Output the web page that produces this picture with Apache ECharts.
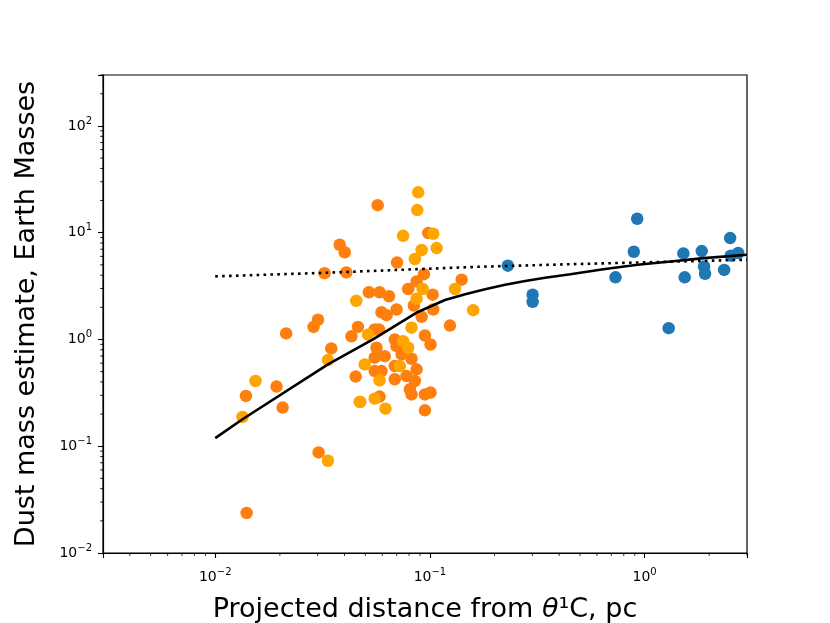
<!DOCTYPE html>
<html>
  <head>
    <meta charset="utf-8" />
    <title>Dust mass vs projected distance</title>
    <script src="https://cdn.jsdelivr.net/npm/echarts@6/dist/echarts.min.js"></script>
  </head>
  <body style="margin: 0">
    <div id="main" style="width: 830px; height: 623px"></div>
  </body>

  <script>
    // disks, dark orange group
    var orangeX = [0.0571, 0.0982, 0.038, 0.0401, 0.0703, 0.0323, 0.0408, 0.0938, 0.1406, 0.0867,
      0.0792, 0.103, 0.052, 0.0583, 0.0645, 0.0842, 0.0699, 0.0595, 0.0628, 0.1036,
      0.0915, 0.0301, 0.0287, 0.0214, 0.0462, 0.0431, 0.0553, 0.0579, 0.124, 0.0948,
      0.1007, 0.0564, 0.0686, 0.0699, 0.0347, 0.0616, 0.0553, 0.0738, 0.0821, 0.0686,
      0.0867, 0.0553, 0.0595, 0.0451, 0.0686, 0.0778, 0.0851, 0.0807, 0.0821, 0.0948,
      0.1007, 0.0583, 0.0473, 0.0948, 0.0193, 0.0139, 0.0206, 0.0303, 0.014];
    var orangeY = [18.1, 9.92, 7.71, 6.56, 5.26, 4.18, 4.25, 4.09, 3.63, 3.5,
      2.97, 2.63, 2.77, 2.77, 2.54, 2.08, 1.91, 1.8, 1.69, 1.91,
      1.63, 1.53, 1.31, 1.14, 1.31, 1.07, 1.24, 1.24, 1.35, 1.09,
      0.898, 0.837, 1.0, 0.866, 0.824, 0.698, 0.675, 0.724, 0.66, 0.563,
      0.525, 0.506, 0.506, 0.449, 0.424, 0.454, 0.408, 0.341, 0.306, 0.306,
      0.318, 0.292, 0.26, 0.217, 0.362, 0.296, 0.23, 0.0875, 0.0237];

    // disks, light orange group
    var yellowX = [0.0882, 0.0873, 0.075, 0.1036, 0.0915, 0.1075, 0.0851, 0.131, 0.0925, 0.0454,
      0.0867, 0.159, 0.0515, 0.0821, 0.075, 0.0792, 0.0335, 0.0497, 0.0724, 0.0583,
      0.0553, 0.0471, 0.0621, 0.0154, 0.0134, 0.0335];
    var yellowY = [23.9, 16.3, 9.35, 9.77, 6.89, 7.18, 5.67, 2.97, 2.97, 2.3,
      2.41, 1.88, 1.11, 1.29, 0.964, 0.837, 0.641, 0.584, 0.563, 0.414,
      0.279, 0.26, 0.225, 0.408, 0.188, 0.0731];

    // outer disks
    var blueX = [0.2307, 0.301, 0.301, 0.732, 0.924, 0.891, 1.295, 1.516, 1.538, 1.846,
      1.892, 1.913, 2.504, 2.348, 2.52, 2.73];
    var blueY = [4.91, 2.63, 2.25, 3.82, 13.5, 6.63, 1.275, 6.4, 3.82, 6.73,
      4.83, 4.13, 8.91, 4.48, 6.09, 6.45];

    // model curves
    var modelX = [0.01, 0.0134, 0.0335, 0.0543, 0.0879, 0.1175, 0.146, 0.1807, 0.224, 0.278,
      0.344, 0.451, 0.643, 0.927, 1.323, 1.888, 3.0];
    var modelY = [0.119, 0.179, 0.585, 1.0, 1.81, 2.34, 2.65, 2.96, 3.25, 3.53,
      3.79, 4.08, 4.55, 5.01, 5.38, 5.78, 6.21];
    var flatX = [0.01, 0.0323, 0.165, 0.451, 3];
    var flatY = [3.9, 4.21, 4.79, 5.07, 5.58];

    // axis limits and minor tick positions
    var xMin = 0.003, xMax = 3;
    var yMin = 0.01, yMax = 300;
    var xMinorTicks = [0.004, 0.005, 0.006, 0.007, 0.008, 0.009,
      0.02, 0.03, 0.04, 0.05, 0.06, 0.07, 0.08, 0.09,
      0.2, 0.3, 0.4, 0.5, 0.6, 0.7, 0.8, 0.9, 2, 3];
    var yMinorTicks = [0.02, 0.03, 0.04, 0.05, 0.06, 0.07, 0.08, 0.09,
      0.2, 0.3, 0.4, 0.5, 0.6, 0.7, 0.8, 0.9,
      2, 3, 4, 5, 6, 7, 8, 9,
      20, 30, 40, 50, 60, 70, 80, 90, 200, 300];

    function zip(xs, ys) {
      return xs.map(function (x, i) { return [x, ys[i]]; });
    }

    var FONT = "DejaVu Sans";

    function powLabel(v) {
      var l = Math.log10(v);
      var e = Math.round(l);
      if (Math.abs(l - e) > 1e-6) return "";
      return "{b|10}{e|" + (e < 0 ? "\u2212" + -e : e) + "}";
    }

    var labelRich = {
      b: { fontSize: 14, fontFamily: FONT, color: "#000", lineHeight: 20 },
      e: { fontSize: 10, fontFamily: FONT, color: "#000", verticalAlign: "top", lineHeight: 20 },
    };

    function minorTick(horizontal) {
      return function (params, api) {
        var p = api.coord([api.value(0), api.value(1)]);
        var shape = horizontal
          ? { x1: p[0], y1: p[1], x2: p[0], y2: p[1] + 2.8 }
          : { x1: p[0], y1: p[1], x2: p[0] - 2.8, y2: p[1] };
        return { type: "line", shape: shape, style: { stroke: "#000", lineWidth: 0.9 } };
      };
    }

    var myChart = echarts.init(document.getElementById("main"));

    option = {
      backgroundColor: "#fff",
      animation: false,
      grid: {
        left: 103,
        right: 83,
        top: 75,
        bottom: 70,
        outerBoundsMode: "none",
        containLabel: false,
        show: true,
        borderColor: "#000",
        borderWidth: 1.2,
      },
      xAxis: {
        type: "log",
        min: xMin,
        max: xMax,
        logBase: 10,
        name: "{n|Projected distance from }{i|\u03b8}{n|\u00b9C, pc}",
        nameLocation: "middle",
        nameGap: 43,
        nameTextStyle: {
          rich: {
            n: { fontSize: 27, fontFamily: FONT, color: "#000" },
            i: { fontSize: 27, fontFamily: FONT, fontStyle: "italic", color: "#000" },
          },
        },
        axisLine: { lineStyle: { color: "#000", width: 1.2 } },
        axisTick: { length: 5, lineStyle: { color: "#000", width: 1.1 } },
        axisLabel: { formatter: powLabel, rich: labelRich, margin: 14 },
        splitLine: { show: false },
      },
      yAxis: {
        type: "log",
        min: yMin,
        max: yMax,
        logBase: 10,
        name: "Dust mass estimate, Earth Masses",
        nameLocation: "middle",
        nameRotate: 90,
        nameGap: 63,
        nameTextStyle: { fontSize: 27, fontFamily: FONT, color: "#000" },
        axisLine: { lineStyle: { color: "#000", width: 1.2 } },
        axisTick: { length: 5, lineStyle: { color: "#000", width: 1.1 } },
        axisLabel: { formatter: powLabel, rich: labelRich, margin: 11 },
        splitLine: { show: false },
      },
      series: [
        {
          name: "inner",
          type: "scatter",
          symbolSize: 12.5,
          itemStyle: { color: "#ff7f0e", opacity: 1 },
          data: zip(orangeX, orangeY),
          z: 2,
        },
        {
          name: "inner light",
          type: "scatter",
          symbolSize: 12.5,
          itemStyle: { color: "#ffa500", opacity: 1 },
          data: zip(yellowX, yellowY),
          z: 2,
        },
        {
          name: "outer",
          type: "scatter",
          symbolSize: 12.5,
          itemStyle: { color: "#1f77b4", opacity: 1 },
          data: zip(blueX, blueY),
          z: 2,
        },
        {
          name: "model",
          type: "line",
          showSymbol: false,
          lineStyle: { color: "#000", width: 2.6 },
          data: zip(modelX, modelY),
          z: 3,
        },
        {
          name: "flat",
          type: "line",
          showSymbol: false,
          lineStyle: { color: "#000", width: 2.6, type: [2.6, 4.3] },
          data: zip(flatX, flatY),
          z: 3,
        },
        {
          type: "custom",
          silent: true,
          clip: false,
          renderItem: minorTick(true),
          data: xMinorTicks.map(function (v) { return [v, yMin]; }),
          z: 4,
        },
        {
          type: "custom",
          silent: true,
          clip: false,
          renderItem: minorTick(false),
          data: yMinorTicks.map(function (v) { return [xMin, v]; }),
          z: 4,
        },
      ],
    };

    myChart.setOption(option);
  </script>
</html>
